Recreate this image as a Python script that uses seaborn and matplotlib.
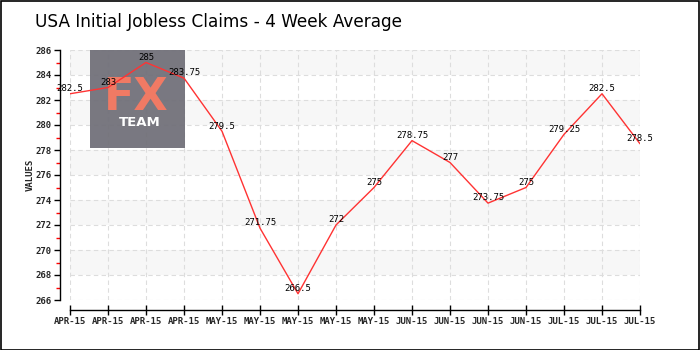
import matplotlib
matplotlib.use("Agg")
import matplotlib.pyplot as plt
import seaborn as sns
import pandas as pd
import numpy as np
from matplotlib.patches import Rectangle
from matplotlib.ticker import MultipleLocator

labels = ["APR-15", "APR-15", "APR-15", "APR-15", "MAY-15", "MAY-15", "MAY-15", "MAY-15",
          "MAY-15", "JUN-15", "JUN-15", "JUN-15", "JUN-15", "JUL-15", "JUL-15", "JUL-15"]
values = [282.5, 283, 285, 283.75, 279.5, 271.75, 266.5, 272, 275, 278.75, 277, 273.75,
          275, 279.25, 282.5, 278.5]
value_text = ["282.5", "283", "285", "283.75", "279.5", "271.75", "266.5", "272", "275",
              "278.75", "277", "273.75", "275", "279.25", "282.5", "278.5"]
title = "USA Initial Jobless Claims - 4 Week Average"

sns.set_theme(style="white")
plt.rcParams['font.family'] = ['DejaVu Sans']

df = pd.DataFrame({"idx": np.arange(len(values)), "value": values})

fig = plt.figure(figsize=(7, 3.5), dpi=100)
W, H = 700, 350
ax = fig.add_axes([70 / W, 1 - 300 / H, 570 / W, 250 / H])

for lo in range(268, 286, 4):
    ax.axhspan(lo, lo + 2, color="#f7f7f7", zorder=0, lw=0)

sns.lineplot(data=df, x="idx", y="value", ax=ax, color="#ff3333", lw=1.0, zorder=3)

ax.set_xlim(0, len(values) - 1)
ax.set_ylim(266, 286)
ax.set_xticks(np.arange(len(values)))
ax.set_xticklabels(labels)
ax.yaxis.set_major_locator(MultipleLocator(2))
ax.yaxis.set_minor_locator(MultipleLocator(1))

ax.grid(True, which="major", color="#dddddd", linestyle=(0, (4, 3)), lw=0.8, zorder=1)
ax.set_axisbelow(True)

sns.despine(ax=ax, offset=7, trim=True)
for s in ("left", "bottom"):
    ax.spines[s].set_color("black")
    ax.spines[s].set_linewidth(1.0)

ax.tick_params(axis="y", which="major", direction="out", length=4, width=1, color="black",
               labelsize=6.5, pad=2, left=True)
ax.tick_params(axis="y", which="minor", direction="out", length=3, width=1, color="#ff0000", left=True)
ax.tick_params(axis="x", which="major", direction="inout", length=7, width=1, color="black",
               labelsize=6.5, pad=2, bottom=True)
for t in ax.get_xticklabels() + ax.get_yticklabels():
    t.set_family("DejaVu Sans Mono")
    t.set_fontweight("bold")

ax.set_xlabel("")
ax.set_ylabel("VALUES", fontsize=6.5, family="DejaVu Sans Mono", fontweight="bold", labelpad=1)

for i, (v, s) in enumerate(zip(values, value_text)):
    ax.annotate(s, (i, v), xytext=(0, 0.5), textcoords="offset points", ha="center", va="bottom",
                fontsize=6.5, family="DejaVu Sans Mono", color="black", zorder=5)

# logo (translucent overlay)
rect = Rectangle((90 / W, 1 - 148 / H), 95 / W, 98 / H, transform=fig.transFigure,
                 facecolor="#6f6e77", edgecolor="none", alpha=0.93, zorder=2)
ax.add_patch(rect)
ax.text(136 / W, 1 - 110 / H, "FX", transform=fig.transFigure, ha="center", va="baseline",
        fontsize=32, color="#f07a64", zorder=2.5, family="DejaVu Sans", fontweight="bold")
ax.text(140 / W, 1 - 126 / H, "TEAM", transform=fig.transFigure, ha="center", va="baseline",
        fontsize=9.5, color="white", zorder=2.5, fontweight="bold", family="DejaVu Sans")

fig.text(35 / W, 1 - 22 / H, title, ha="left", va="center", fontsize=12.2, color="black")

fig.patches.append(Rectangle((0.5 / W, 0.5 / H), 1 - 1.5 / W, 1 - 1.5 / H, transform=fig.transFigure,
                             fill=False, edgecolor="black", lw=1.2))

fig.savefig("out.png", dpi=100)
